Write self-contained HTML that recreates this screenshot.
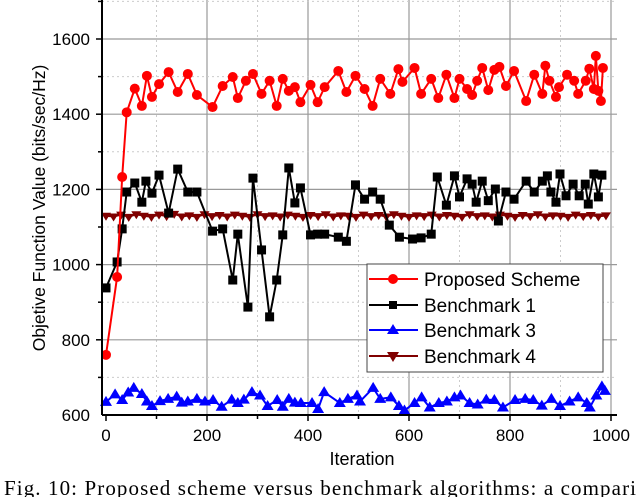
<!DOCTYPE html>
<html><head><meta charset="utf-8"><style>
body{margin:0;background:#fff;width:640px;height:497px;overflow:hidden}
svg{display:block;font-family:"Liberation Sans",sans-serif}
</style></head><body>
<svg id="c" width="640" height="497">
<g id="grid"></g>
<g id="series"></g>
<g id="axes"></g>
<text x="0" y="0" transform="translate(45,208) rotate(-90)" text-anchor="middle" font-size="17.5">Objetive Function Value (bits/sec/Hz)</text>
<text x="362" y="465" text-anchor="middle" font-size="18">Iteration</text>
<text x="4" y="495" font-family="Liberation Serif,serif" font-size="21" textLength="632" lengthAdjust="spacing">Fig. 10: Proposed scheme versus benchmark algorithms: a compari</text>
<g>
<rect x="367" y="264" width="236" height="108" fill="#fff" stroke="#444" stroke-width="1"/>
<line x1="369" y1="279" x2="418" y2="279" stroke="#f00" stroke-width="2"/><circle cx="393" cy="279" r="5" fill="#f00"/>
<text x="424" y="286" font-size="19">Proposed Scheme</text>
<line x1="369" y1="305" x2="418" y2="305" stroke="#000" stroke-width="2"/><rect x="389" y="301" width="8" height="8" fill="#000"/>
<text x="424" y="312" font-size="19">Benchmark 1</text>
<line x1="369" y1="330" x2="418" y2="330" stroke="#00f" stroke-width="2"/><polygon points="393,324 399,334 387,334" fill="#00f"/>
<text x="424" y="337" font-size="19">Benchmark 3</text>
<line x1="369" y1="356" x2="418" y2="356" stroke="#800000" stroke-width="2"/><polygon points="387,352 399,352 393,362" fill="#800000"/>
<text x="424" y="363" font-size="19">Benchmark 4</text>
</g>
</svg>
<script>
const redX=[0,22,32,41,57,71,81,91,105,124,142,162,180,211,231,251,261,277,291,308,324,338,350,362,374,385,405,419,433,460,476,494,512,528,543,563,579,587,611,624,644,658,674,690,700,715,725,735,745,757,769,779,792,808,832,848,864,870,878,891,897,913,927,935,950,957,966,970,975,980,984];
const redY=[760,967,1233,1405,1468,1422,1502,1446,1480,1512,1459,1507,1451,1419,1475,1499,1443,1489,1507,1454,1489,1422,1494,1462,1472,1432,1478,1432,1472,1515,1459,1502,1467,1422,1494,1454,1520,1486,1523,1454,1494,1443,1505,1443,1494,1467,1451,1489,1523,1464,1518,1526,1475,1515,1435,1505,1454,1529,1489,1446,1472,1505,1489,1454,1489,1521,1467,1555,1462,1435,1523];
const b1X=[0,22,32,41,57,71,79,91,105,124,142,162,180,211,231,251,261,281,291,308,324,338,350,362,374,385,405,419,433,460,476,494,512,528,543,561,581,607,624,644,656,674,690,700,715,725,733,745,757,771,777,792,808,832,848,864,874,881,891,899,911,925,937,949,955,966,975,982];
const b1Y=[938,1007,1095,1193,1217,1166,1222,1190,1238,1137,1254,1193,1193,1089,1095,959,1081,887,1230,1039,861,959,1079,1257,1164,1204,1079,1081,1081,1073,1062,1212,1174,1193,1174,1105,1073,1068,1071,1081,1233,1158,1236,1180,1228,1214,1166,1222,1170,1201,1116,1193,1174,1222,1193,1222,1236,1193,1166,1241,1183,1214,1183,1214,1161,1241,1180,1238];
const b3X=[0,18,32,44,55,71,81,91,107,123,140,150,162,180,196,212,229,249,261,273,289,305,320,339,350,362,374,386,408,420,432,463,479,497,503,529,543,564,580,591,611,625,641,659,675,690,702,720,736,753,769,786,810,830,846,863,882,899,918,935,952,958,971,982,988];
const b3Y=[635,655,640,660,672,656,636,624,637,643,649,633,636,643,636,640,622,641,632,641,661,652,624,640,622,643,633,632,632,616,661,632,643,652,636,672,643,647,624,612,632,647,620,632,636,647,652,632,628,641,640,620,640,643,640,625,643,624,636,647,632,620,652,676,664];
const b4X=[0,15,30,45,60,75,90,105,120,135,150,165,180,195,210,225,240,255,270,285,300,315,330,345,360,375,390,405,420,435,450,465,480,495,510,525,540,555,570,585,600,615,630,645,660,675,690,705,720,735,750,765,780,795,810,825,840,855,870,885,900,915,930,945,960,975,990];
const b4Y=[1130,1128,1133,1127,1134,1130,1127,1133,1129,1135,1128,1131,1127,1134,1129,1132,1128,1133,1130,1127,1134,1129,1131,1128,1133,1130,1127,1132,1129,1134,1128,1131,1130,1127,1133,1129,1132,1128,1134,1130,1127,1131,1129,1133,1128,1132,1130,1127,1134,1129,1131,1128,1133,1130,1127,1132,1129,1134,1128,1131,1130,1127,1133,1129,1132,1128,1131];
const xTicks=[0,200,400,600,800,1000];
const yTicks=[600,800,1000,1200,1400,1600];
const NS="http://www.w3.org/2000/svg";
const X=v=>106+v*0.505, Y=v=>415-(v-600)*0.376;
function mk(t,a,p){const e=document.createElementNS(NS,t);for(const k in a)e.setAttribute(k,a[k]);p.appendChild(e);return e;}
const G=document.getElementById('grid'),S=document.getElementById('series'),A=document.getElementById('axes');
const L=102,R=617,T=0,B=415;
for(let v=100;v<=1000;v+=100){const g=mk('line',{x1:X(v),x2:X(v),y1:T,y2:B,stroke:v%200?'#ccc':'#999','stroke-width':v%200?1:1.2,'stroke-dasharray':v%200?'2,3':'none'},G);

}
for(let v=700;v<=1700;v+=100){const g=mk('line',{x1:L,x2:R,y1:Y(v),y2:Y(v),stroke:v%200?'#ccc':'#999','stroke-width':v%200?1:1.2,'stroke-dasharray':v%200?'2,3':'none'},G);

}
function series(xs,ys,col,name,marker){
const pl=mk('polyline',{points:xs.map((x,i)=>X(x)+','+Y(ys[i])).join(' '),fill:'none',stroke:col,'stroke-width':2},S);


xs.forEach((x,i)=>{const cx=X(x),cy=Y(ys[i]);let m;
if(marker==='c')m=mk('circle',{cx:cx,cy:cy,r:5,fill:col},S);
else if(marker==='s')m=mk('rect',{x:cx-4.5,y:cy-4.5,width:9,height:9,fill:col},S);
else if(marker==='u')m=mk('polygon',{points:`${cx},${cy-6} ${cx+6},${cy+4} ${cx-6},${cy+4}`,fill:col},S);
else m=mk('polygon',{points:`${cx-5},${cy-3} ${cx+5},${cy-3} ${cx},${cy+5}`,fill:col},S);

});}
series(b4X,b4Y,'#800000','benchmark-4','d');
series(b3X,b3Y,'#00f','benchmark-3','u');
series(b1X,b1Y,'#000','benchmark-1','s');
series(redX,redY,'#f00','proposed','c');
const ax=mk('line',{x1:L,x2:R,y1:B,y2:B,stroke:'#000','stroke-width':2},A);


const ay=mk('line',{x1:L,x2:L,y1:T,y2:B,stroke:'#000','stroke-width':2},A);


for(let v=0;v<=1000;v+=100){const t=mk('line',{x1:X(v),x2:X(v),y1:B,y2:B+(v%200?4:6),stroke:'#000','stroke-width':1.5},A);

}
for(let v=700;v<=1700;v+=100){const t=mk('line',{x1:L,x2:L-(v%200?4:6),y1:Y(v),y2:Y(v),stroke:'#000','stroke-width':1.5},A);

}
xTicks.forEach(v=>{const t=mk('text',{x:X(v),y:441,'text-anchor':'middle','font-size':17},A);t.textContent=v;

});
yTicks.forEach(v=>{const t=mk('text',{x:90,y:Y(v)+6,'text-anchor':'end','font-size':17},A);t.textContent=v;

});
</script>
</body></html>
